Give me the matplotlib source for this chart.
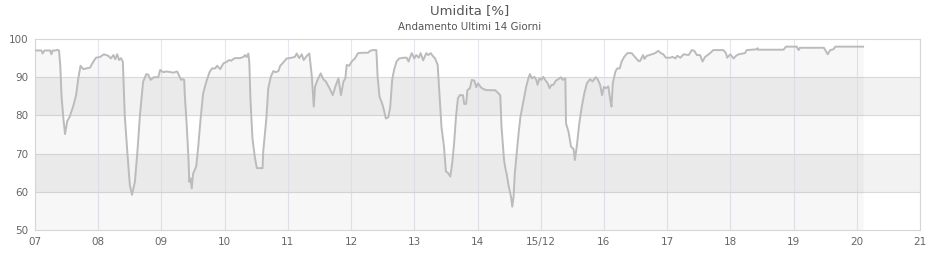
import matplotlib
matplotlib.use("Agg")
import matplotlib.pyplot as plt

# Umidita - ultimi 14 giorni (x = giorni dal 07/12)
giorni = [0.00, 0.10, 0.12, 0.15, 0.24, 0.26, 0.28, 0.33, 0.35, 0.38, 0.40, 0.42, 0.45, 0.475,
          0.51, 0.55, 0.61, 0.65, 0.685, 0.72, 0.765, 0.81, 0.87, 0.92, 0.965, 1.03, 1.09, 1.16,
          1.20, 1.24, 1.27, 1.30, 1.33, 1.36, 1.39, 1.42, 1.46, 1.50, 1.535, 1.58, 1.62, 1.66,
          1.71, 1.76, 1.79, 1.83, 1.88, 1.95, 1.98, 2.03, 2.08, 2.19, 2.25, 2.31, 2.34, 2.36,
          2.37, 2.40, 2.43, 2.44, 2.46, 2.48, 2.50, 2.55, 2.58, 2.62, 2.66, 2.71, 2.76, 2.80,
          2.85, 2.88, 2.93, 2.98, 3.03, 3.07, 3.10, 3.16, 3.24, 3.30, 3.32, 3.35, 3.375, 3.39,
          3.41, 3.44, 3.48, 3.51, 3.56, 3.60, 3.61, 3.66, 3.69, 3.73, 3.77, 3.81, 3.85, 3.88,
          3.93, 3.98, 4.03, 4.11, 4.14, 4.18, 4.22, 4.25, 4.30, 4.34, 4.38, 4.41, 4.43, 4.47,
          4.52, 4.56, 4.60, 4.66, 4.71, 4.75, 4.80, 4.84, 4.88, 4.91, 4.93, 4.97, 5.01, 5.06,
          5.11, 5.19, 5.27, 5.30, 5.35, 5.40, 5.42, 5.45, 5.49, 5.52, 5.55, 5.59, 5.62, 5.65,
          5.68, 5.72, 5.76, 5.83, 5.88, 5.91, 5.93, 5.96, 6.00, 6.03, 6.07, 6.10, 6.14, 6.19,
          6.22, 6.26, 6.30, 6.33, 6.37, 6.40, 6.43, 6.47, 6.50, 6.53, 6.57, 6.60, 6.63, 6.66,
          6.69, 6.72, 6.77, 6.79, 6.82, 6.84, 6.88, 6.91, 6.95, 6.98, 7.01, 7.05, 7.09, 7.15,
          7.23, 7.28, 7.33, 7.36, 7.38, 7.42, 7.44, 7.46, 7.49, 7.53, 7.55, 7.57, 7.59, 7.62,
          7.65, 7.68, 7.73, 7.77, 7.81, 7.83, 7.86, 7.90, 7.93, 7.95, 7.98, 8.01, 8.04, 8.07,
          8.11, 8.14, 8.17, 8.20, 8.24, 8.28, 8.32, 8.35, 8.39, 8.40, 8.44, 8.48, 8.52, 8.54,
          8.57, 8.61, 8.65, 8.69, 8.73, 8.78, 8.82, 8.87, 8.90, 8.94, 8.97, 9.00, 9.03, 9.07,
          9.10, 9.12, 9.14, 9.18, 9.21, 9.25, 9.28, 9.32, 9.37, 9.44, 9.49, 9.55, 9.57, 9.62,
          9.64, 9.68, 9.76, 9.81, 9.86, 9.90, 9.94, 9.98, 10.04, 10.09, 10.13, 10.16, 10.21,
          10.26, 10.34, 10.39, 10.43, 10.47, 10.52, 10.56, 10.60, 10.64, 10.68, 10.73, 10.89,
          10.93, 10.95, 11.00, 11.05, 11.09, 11.13, 11.23, 11.26, 11.42, 11.43, 11.44, 11.84,
          11.88, 12.05, 12.08, 12.10, 12.48, 12.54, 12.58, 12.63, 12.66, 13.10]
umidita = [97, 97, 96.2, 97, 97, 96, 97, 97, 97.2, 97, 93, 85, 79, 75.1,
           78.5, 79.7, 82.7, 85.3, 89.7, 93, 92.1, 92.3, 92.5, 94, 95.1, 95.3, 96, 95.6,
           94.9, 95.8, 94.7, 96, 94.5, 95, 94, 80, 70.5, 61.8, 59.2, 62.6, 70.5, 80,
           88.8, 90.8, 90.7, 89.3, 90, 90, 91.9, 91.3, 91.5, 91.2, 91.5, 89.3, 89.5, 89.3,
           85.3, 77.5, 67.9, 62.6, 63.5, 60.9, 64.7, 66.6, 71.4, 79.2, 85.8, 88.8, 91.3, 92.3,
           92.3, 93, 92.1, 93.6, 94, 94.5, 94.3, 95, 95, 95.3, 95.8, 95.3, 96.2, 94,
           83.6, 74, 68.8, 66.2, 66.2, 66.2, 70.5, 79.2, 87.1, 90.1, 91.6, 91.3, 91.6, 93,
           93.9, 94.9, 95, 95.3, 96.2, 95, 96, 94.5, 95.6, 96.2, 90.1, 82.3, 87.5, 89.3,
           91, 89.5, 88.9, 87.1, 85.3, 87.5, 89.7, 85.3, 88.9, 89.7, 93.2, 93, 94.1, 94.9,
           96.3, 96.4, 96.4, 96.9, 97.1, 97.1, 90.1, 84.9, 83.2, 81.4, 79.2, 79.5, 82.3, 89.3,
           91.9, 94.1, 94.9, 95.1, 95.1, 94.1, 95.1, 96.3, 94.9, 95.8, 95.1, 96.3, 94.4, 96.3,
           95.8, 96.3, 95.4, 94.9, 93.2, 84.9, 77, 71.8, 65.3, 65, 64, 67.5, 72.7, 79.7,
           84.5, 85.3, 85.3, 83, 83, 86.6, 87.1, 89.3, 89.1, 87.4, 88.4, 87.4, 86.9, 86.6,
           86.6, 86.6, 85.8, 85.3, 77, 68.3, 66.2, 64.8, 61.8, 58.7, 56.1, 58.7, 64.8, 70.1,
           75.3, 79.7, 84, 87.5, 90, 90.8, 89.7, 90.1, 89.3, 88, 89.7, 89.3, 90.1, 89.3,
           88.4, 87.1, 88, 88, 89.1, 89.5, 90, 89.3, 89.7, 77.9, 75.7, 71.8, 71.2, 68.3,
           71.8, 77.9, 82.3, 85.8, 88.4, 89.5, 88.9, 90, 89.5, 88, 85.3, 87.5, 87.1, 87.6,
           84, 82.3, 88.4, 91.4, 92.3, 92.3, 94.1, 95.3, 96.3, 96.3, 95.3, 94.2, 94.2, 95.8,
           94.8, 95.6, 96, 96.3, 96.9, 96.3, 96, 95.1, 95.1, 95.3, 94.9, 95.6, 95.1,
           96, 95.8, 97.1, 96.9, 95.8, 95.8, 94.1, 95.3, 95.8, 96.3, 97.1, 97.1,
           96.3, 95.1, 96, 94.9, 95.6, 96, 96.3, 97.1, 97.3, 97.6, 97.2, 97.2,
           98, 98, 97.1, 97.7, 97.7, 96, 97.1, 97.3, 98, 98]

giorno_inizio = 7
tick_giorni = list(range(7, 22))
tick_etichette = ["07", "08", "09", "10", "11", "12", "13", "14", "15/12",
                  "16", "17", "18", "19", "20", "21"]
bande = [(60, 70), (80, 90)]

x = [giorno_inizio + g for g in giorni]

fig = plt.figure(figsize=(9.4, 2.6), dpi=100)
ax = fig.add_axes([35 / 940, 1 - 230 / 260, 885 / 940, 191 / 260])

# bande alternate e griglia
for lo, hi in bande:
    ax.axhspan(lo, hi, color="#f2f2f2", lw=0, zorder=0)
for v in tick_giorni:
    ax.axvline(v, color="#e6e6f2", lw=0.8, zorder=1)
for h in [60, 70, 80, 90]:
    ax.axhline(h, color="#dadada", lw=0.8, zorder=1)

# area sotto la curva
ax.fill_between(x, 50, umidita, color="black", alpha=0.03, lw=0, zorder=2)
ax.plot(x, umidita, color="#bbbbbb", lw=1.4, zorder=3)

ax.set_xlim(7, 21)
ax.set_ylim(50, 100)
ax.set_xticks(tick_giorni)
ax.set_xticklabels(tick_etichette)
ax.set_yticks([50, 60, 70, 80, 90, 100])
ax.tick_params(length=0, labelsize=7.5, labelcolor="#666666", pad=5)
for s in ax.spines.values():
    s.set_color("#d6d6d6")
    s.set_linewidth(0.8)

fig.text(0.5, 1 - 11 / 260, "Umidita [%]", ha="center", va="center",
         fontsize=9.5, color="#555555")
fig.text(0.5, 1 - 27 / 260, "Andamento Ultimi 14 Giorni", ha="center", va="center",
         fontsize=7.4, color="#555555")

fig.savefig("out.png", dpi=100)
